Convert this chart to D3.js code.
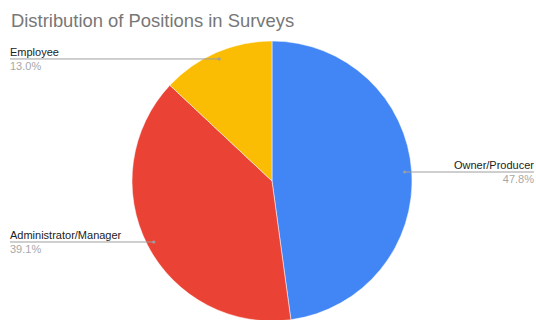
<!DOCTYPE html>
<html>
<head>
<meta charset="utf-8">
<script src="https://cdn.jsdelivr.net/npm/d3@7"></script>
<style>
body { margin: 0; background: #fff; }
text { font-family: "Liberation Sans", Arial, sans-serif; }
</style>
</head>
<body>
<div id="chart"></div>
<script>
// data
var labels = ["Owner/Producer", "Administrator/Manager", "Employee"];
var values = [47.8, 39.1, 13.0];
var colors = ["#4285f4", "#ea4335", "#fbbc04"];

var width = 536, height = 320;
var cx = 272, cy = 181, radius = 140;

var svg = d3.select("#chart").append("svg")
    .attr("width", width)
    .attr("height", height);

svg.append("text")
    .attr("x", 11)
    .attr("y", 27)
    .attr("font-size", 18.4)
    .attr("fill", "#777")
    .text("Distribution of Positions in Surveys");

var data = labels.map(function(l, i) { return {label: l, value: values[i], color: colors[i]}; });

var pie = d3.pie().sort(null).value(function(d) { return d.value; });
var arc = d3.arc().innerRadius(0).outerRadius(radius);
var arcs = pie(data);

var g = svg.append("g").attr("transform", "translate(" + cx + "," + cy + ")");

g.selectAll("path")
    .data(arcs)
    .enter().append("path")
    .attr("d", arc)
    .attr("fill", function(d) { return d.data.color; })
    .attr("stroke", "#fff")
    .attr("stroke-width", 0.5);

// leader lines + labels
var dotR = radius * 0.95;
arcs.forEach(function(d) {
    var a = (d.startAngle + d.endAngle) / 2;
    var px = cx + Math.sin(a) * dotR;
    var py = cy - Math.cos(a) * dotR;
    var right = Math.sin(a) > 0;
    var x2 = right ? 534 : 10;

    svg.append("line")
        .attr("x1", px).attr("y1", py)
        .attr("x2", x2).attr("y2", py)
        .attr("stroke", "#9e9e9e")
        .attr("stroke-width", 1);
    svg.append("circle")
        .attr("cx", px).attr("cy", py)
        .attr("r", 1.6)
        .attr("fill", "#9e9e9e");

    svg.append("text")
        .attr("x", x2)
        .attr("y", py - 3)
        .attr("font-size", 11)
        .attr("fill", "#222")
        .attr("text-anchor", right ? "end" : "start")
        .text(d.data.label);
    svg.append("text")
        .attr("x", x2)
        .attr("y", py + 11)
        .attr("font-size", 11)
        .attr("fill", "#a8a8a8")
        .attr("text-anchor", right ? "end" : "start")
        .text(d.data.value.toFixed(1) + "%");
});
</script>
</body>
</html>
